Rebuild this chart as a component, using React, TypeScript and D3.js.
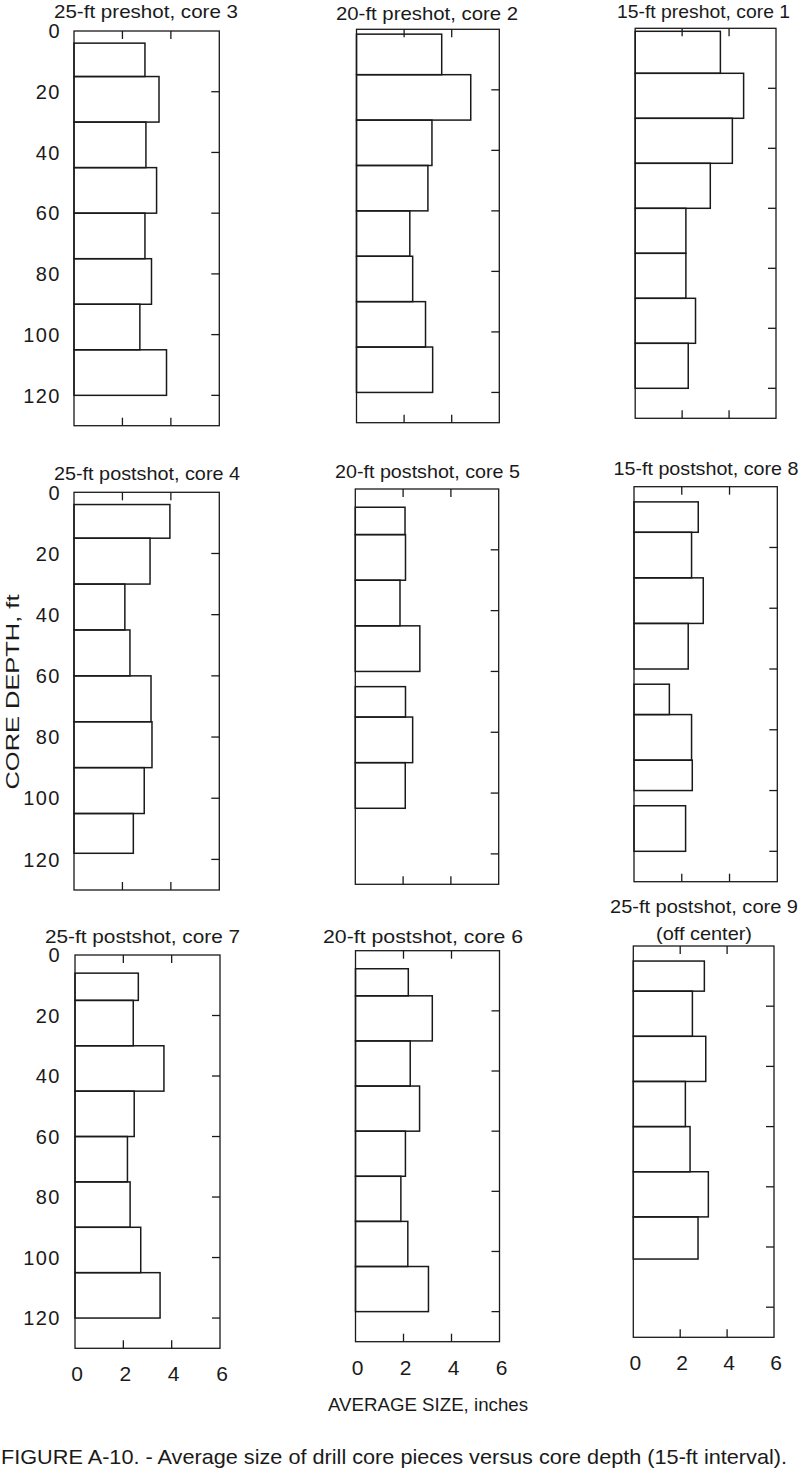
import React from "react";
import * as d3 from "d3";

// ---- data (depth in ft, average size in inches) ----
const titles = [
  "25-ft  preshot, core 3",
  "20-ft  preshot, core 2",
  "15-ft  preshot, core 1",
  "25-ft postshot, core 4",
  "20-ft postshot, core 5",
  "15-ft postshot, core 8",
  "25-ft postshot, core 7",
  "20-ft postshot, core 6",
  "25-ft postshot, core 9",
];
const subtitle9 = "(off center)";

const core3Top = [4, 15, 30, 45, 60, 75, 90, 105];
const core3Bottom = [15, 30, 45, 60, 75, 90, 105, 120];
const core3Size = [2.93, 3.51, 2.97, 3.41, 2.93, 3.2, 2.72, 3.82];

const core2Top = [1.6, 15, 30, 45, 60, 75, 90, 105];
const core2Bottom = [15, 30, 45, 60, 75, 90, 105, 120];
const core2Size = [3.58, 4.8, 3.17, 3.0, 2.24, 2.36, 2.9, 3.2];

const core1Top = [1, 15, 30, 45, 60, 75, 90, 105];
const core1Bottom = [15, 30, 45, 60, 75, 90, 105, 120];
const core1Size = [3.63, 4.62, 4.14, 3.2, 2.16, 2.16, 2.57, 2.26];

const core4Top = [4, 15, 30, 45, 60, 75, 90, 105];
const core4Bottom = [15, 30, 45, 60, 75, 90, 105, 118];
const core4Size = [3.96, 3.14, 2.1, 2.31, 3.18, 3.22, 2.9, 2.45];

const core5Top = [6, 15, 30, 45, 65, 75, 90];
const core5Bottom = [15, 30, 45, 60, 75, 90, 105];
const core5Size = [2.08, 2.1, 1.87, 2.7, 2.1, 2.4, 2.09];

const core8Top = [5, 15, 30, 45, 65, 75, 90, 105];
const core8Bottom = [15, 30, 45, 60, 75, 90, 100, 120];
const core8Size = [2.69, 2.41, 2.9, 2.27, 1.48, 2.41, 2.44, 2.16];

const core7Top = [6, 15, 30, 45, 60, 75, 90, 105];
const core7Bottom = [15, 30, 45, 60, 75, 90, 105, 120];
const core7Size = [2.62, 2.41, 3.68, 2.45, 2.17, 2.28, 2.72, 3.52];

const core6Top = [6, 15, 30, 45, 60, 75, 90, 105];
const core6Bottom = [15, 30, 45, 60, 75, 90, 105, 120];
const core6Size = [2.2, 3.2, 2.28, 2.67, 2.08, 1.89, 2.18, 3.04];

const core9Top = [5, 15, 30, 45, 60, 75, 90];
const core9Bottom = [15, 30, 45, 60, 75, 90, 104];
const core9Size = [3.03, 2.52, 3.09, 2.22, 2.42, 3.2, 2.76];

const depthTicks = [0, 20, 40, 60, 80, 100, 120];
const sizeTicks = [0, 2, 4, 6];
const depthDomain = [0, 130];
const sizeDomain = [0, 6];

const xAxisTitle = "AVERAGE SIZE, inches";
const yAxisTitle = "CORE DEPTH, ft";
const caption =
  "FIGURE A-10. - Average size of drill core pieces versus core depth (15-ft interval).";

const seriesTop = [core3Top, core2Top, core1Top, core4Top, core5Top, core8Top, core7Top, core6Top, core9Top];
const seriesBottom = [core3Bottom, core2Bottom, core1Bottom, core4Bottom, core5Bottom, core8Bottom, core7Bottom, core6Bottom, core9Bottom];
const seriesSize = [core3Size, core2Size, core1Size, core4Size, core5Size, core8Size, core7Size, core6Size, core9Size];

// ---- layout ----
const panelLayout = [
  { left: 74, top: 31, w: 145.3, h: 394.7, tx: 146, ty: 18, tw: 184 },
  { left: 356.5, top: 29.3, w: 142.8, h: 393.4, tx: 427, ty: 20, tw: 182 },
  { left: 635.2, top: 28.3, w: 140.8, h: 390, tx: 703.5, ty: 18, tw: 173 },
  { left: 74, top: 492.3, w: 145.3, h: 397.7, tx: 147, ty: 480, tw: 186 },
  { left: 355.3, top: 489, w: 143.4, h: 395.3, tx: 427.5, ty: 478, tw: 185 },
  { left: 634, top: 486.7, w: 143.3, h: 395, tx: 706, ty: 475, tw: 185 },
  { left: 75, top: 955, w: 145, h: 393.3, tx: 142.5, ty: 943, tw: 195 },
  { left: 355.5, top: 950.7, w: 144, h: 391, tx: 423, ty: 943, tw: 200 },
  { left: 633.3, top: 946, w: 140.7, h: 391.3, tx: 704, ty: 913, tw: 188 },
];
const xLabelBaseline = [1381, 1375, 1370];
const FONT = "'Liberation Sans', 'DejaVu Sans', sans-serif";
const INK = "#1a1a1a";
const TICK = 8;

function Panel({ i }: { i: number }) {
  const L = panelLayout[i];
  const x = d3.scaleLinear().domain(sizeDomain).range([L.left, L.left + L.w]);
  const y = d3.scaleLinear().domain(depthDomain).range([L.top, L.top + L.h]);
  const tops = seriesTop[i];
  const bottoms = seriesBottom[i];
  const sizes = seriesSize[i];
  const col = i % 3;
  const row = Math.floor(i / 3);
  const innerX = sizeTicks.filter((t) => t > 0 && t < 6);
  const innerY = depthTicks.filter((t) => t > 0);
  return (
    <g>
      <text
        x={L.tx}
        y={L.ty}
        textAnchor="middle"
        fontFamily={FONT}
        fontSize={18.5}
        fill={INK}
        textLength={L.tw}
        lengthAdjust="spacingAndGlyphs"
      >
        {titles[i]}
      </text>
      {i === 8 && (
        <text
          x={704}
          y={940}
          textAnchor="middle"
          fontFamily={FONT}
          fontSize={18.5}
          fill={INK}
          textLength={96}
          lengthAdjust="spacingAndGlyphs"
        >
          {subtitle9}
        </text>
      )}
      {/* bars */}
      {sizes.map((v, k) => (
        <rect
          key={k}
          x={x(0)}
          y={y(tops[k])}
          width={x(v) - x(0)}
          height={y(bottoms[k]) - y(tops[k])}
          fill="none"
          stroke={INK}
          strokeWidth={1.5}
        />
      ))}
      {/* frame */}
      <rect
        x={x(0)}
        y={y(0)}
        width={x(6) - x(0)}
        height={y(130) - y(0)}
        fill="none"
        stroke={INK}
        strokeWidth={1.3}
      />
      {innerX.map((t) => (
        <g key={"xt" + t}>
          <line x1={x(t)} x2={x(t)} y1={y(0)} y2={y(0) + TICK} stroke={INK} strokeWidth={1.3} />
          <line x1={x(t)} x2={x(t)} y1={y(130)} y2={y(130) - TICK} stroke={INK} strokeWidth={1.3} />
        </g>
      ))}
      {innerY.map((t) => (
        <line key={"yt" + t} x1={x(6)} x2={x(6) - TICK} y1={y(t)} y2={y(t)} stroke={INK} strokeWidth={1.3} />
      ))}
      {col === 0 &&
        depthTicks.map((t) => (
          <text
            key={"yl" + t}
            x={61}
            y={y(t)}
            dy="0.36em"
            textAnchor="end"
            fontFamily={FONT}
            fontSize={20}
            letterSpacing={1.5}
            fill={INK}
          >
            {t}
          </text>
        ))}
      {row === 2 &&
        sizeTicks.map((t) => (
          <text
            key={"xl" + t}
            x={x(t) + 2}
            y={xLabelBaseline[col]}
            textAnchor="middle"
            fontFamily={FONT}
            fontSize={21}
            fill={INK}
          >
            {t}
          </text>
        ))}
    </g>
  );
}

export default function App() {
  return (
    <svg
      width={800}
      height={1475}
      viewBox="0 0 800 1475"
      style={{ position: "absolute", left: 0, top: 0, background: "#fff" }}
    >
      <rect x={0} y={0} width={800} height={1475} fill="#fff" />
      {titles.map((_, i) => (
        <Panel key={i} i={i} />
      ))}
      <text
        transform="translate(19,692) rotate(-90)"
        textAnchor="middle"
        fontFamily={FONT}
        fontSize={18}
        fill={INK}
        textLength={195}
        lengthAdjust="spacingAndGlyphs"
      >
        {yAxisTitle}
      </text>
      <text
        x={428}
        y={1411}
        textAnchor="middle"
        fontFamily={FONT}
        fontSize={19}
        fill={INK}
        textLength={200}
        lengthAdjust="spacingAndGlyphs"
      >
        {xAxisTitle}
      </text>
      <text
        x={394}
        y={1464}
        textAnchor="middle"
        fontFamily={FONT}
        fontSize={21}
        fill={INK}
        textLength={786}
        lengthAdjust="spacingAndGlyphs"
      >
        {caption}
      </text>
    </svg>
  );
}
